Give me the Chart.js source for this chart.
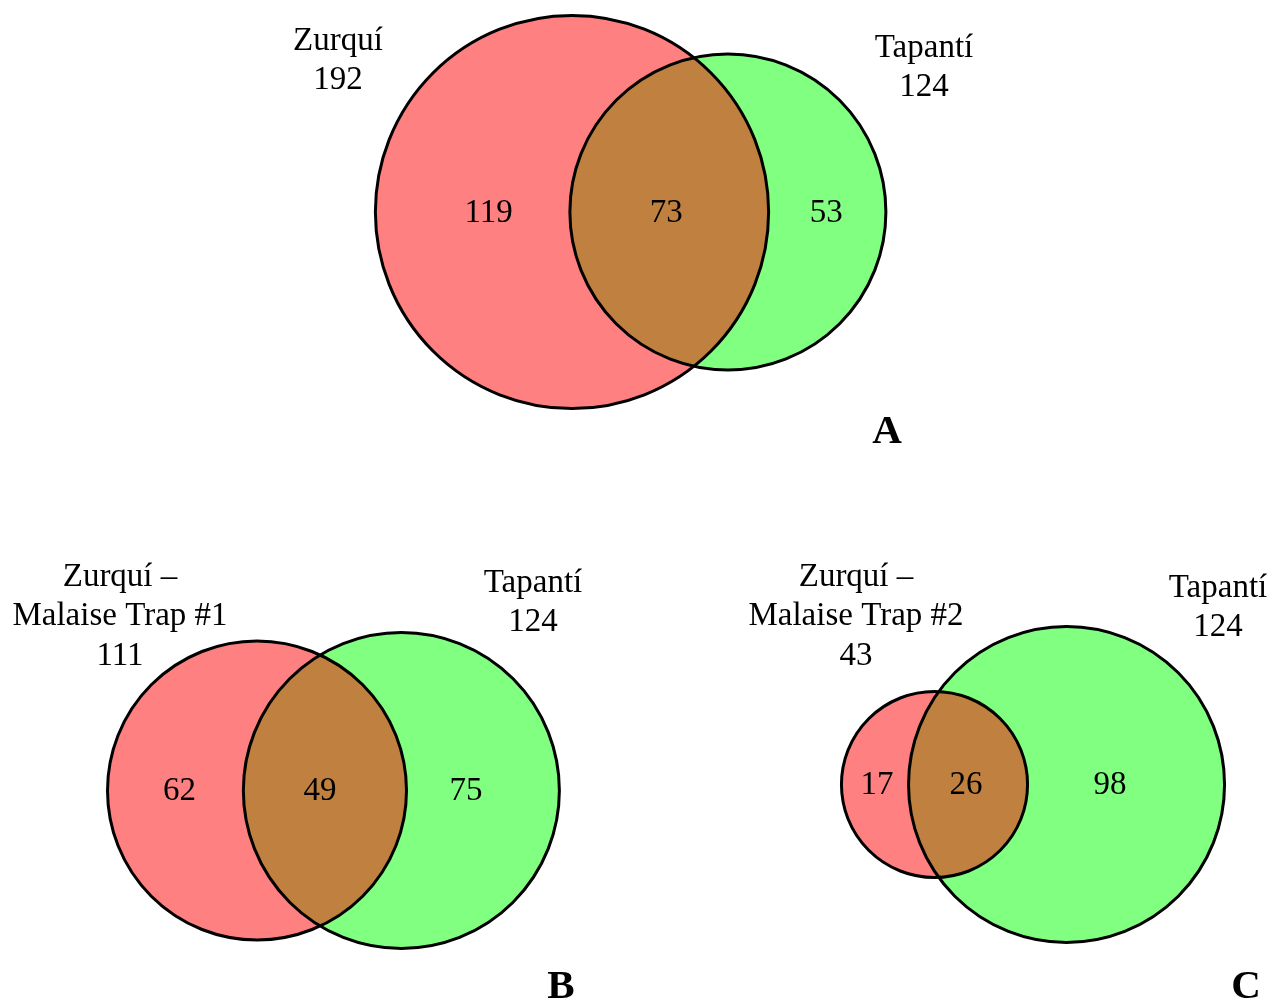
<!DOCTYPE html>
<html>
<head>
<meta charset="utf-8">
<script src="https://cdn.jsdelivr.net/npm/chart.js@4/dist/chart.umd.min.js"></script>
<style>
  html, body { margin: 0; padding: 0; background: #ffffff; }
  #wrap { width: 1277px; height: 1003px; position: relative; }
</style>
</head>
<body>
<div id="wrap"><canvas id="venn"></canvas></div>
<script>
// Species counts for the three pairwise comparisons
const panelLetters   = ['A', 'B', 'C'];
const leftSetNames   = [['Zurquí'], ['Zurquí –', 'Malaise Trap #1'], ['Zurquí –', 'Malaise Trap #2']];
const rightSetNames  = [['Tapantí'], ['Tapantí'], ['Tapantí']];
const leftTotals     = [192, 111, 43];
const rightTotals    = [124, 124, 124];
const leftOnly       = [119, 62, 17];
const shared         = [73, 49, 26];
const rightOnly      = [53, 75, 98];

// Layout (plot units: 1 unit = 1 px, y grows downward)
const unitRadius = 14.19;               // circle radius per sqrt(count)
const layout = [
  { cx: 572,   cy: 212,   gap: 5,  leftLabel: [338, 41],  rightLabel: [924, 48],  letter: [887, 432], nudge: [16, -3, -1] },
  { cx: 257,   cy: 790.5, gap: -2, leftLabel: [120, 577], rightLabel: [533, 583], letter: [561, 987], nudge: [4, -5, -17] },
  { cx: 934.5, cy: 784.5, gap: -1, leftLabel: [856, 577], rightLabel: [1218, 588], letter: [1246, 987], nudge: [2, -2, -16] }
];
const lineGap = 39.5;
const FONT = "'Liberation Serif', 'Times New Roman', serif";
const TEXT_SIZE = 33;
const LETTER_SIZE = 41;
const RED = 'rgb(255,128,128)';
const GREEN = 'rgb(128,255,128)';
const MIX = 'rgb(191,128,64)';

// Area of the lens formed by two circles at centre distance d
function lensArea(r1, r2, d) {
  if (d >= r1 + r2) return 0;
  if (d <= Math.abs(r1 - r2)) return Math.PI * Math.min(r1, r2) ** 2;
  const a1 = Math.acos((d * d + r1 * r1 - r2 * r2) / (2 * d * r1));
  const a2 = Math.acos((d * d + r2 * r2 - r1 * r1) / (2 * d * r2));
  const t = Math.sqrt((-d + r1 + r2) * (d + r1 - r2) * (d - r1 + r2) * (d + r1 + r2));
  return r1 * r1 * a1 + r2 * r2 * a2 - 0.5 * t;
}
// Centre distance whose lens area is proportional to the shared count
function solveDistance(r1, r2, target) {
  let lo = Math.abs(r1 - r2), hi = r1 + r2;
  for (let i = 0; i < 80; i++) {
    const mid = (lo + hi) / 2;
    if (lensArea(r1, r2, mid) > target) lo = mid; else hi = mid;
  }
  return (lo + hi) / 2;
}

const circles = panelLetters.map((_, i) => {
  const r1 = unitRadius * Math.sqrt(leftTotals[i]);
  const r2 = unitRadius * Math.sqrt(rightTotals[i]);
  const d = solveDistance(r1, r2, Math.PI * unitRadius * unitRadius * shared[i]);
  const L = layout[i];
  return { x1: L.cx, y: L.cy, r1, x2: L.cx + d + L.gap, r2 };
});

const centrePoints = [];
circles.forEach(c => { centrePoints.push({ x: c.x1, y: c.y }); centrePoints.push({ x: c.x2, y: c.y }); });

const vennPlugin = {
  id: 'venn',
  afterDatasetsDraw(chart) {
    const ctx = chart.ctx;
    const xs = chart.scales.x, ys = chart.scales.y;
    const px = v => xs.getPixelForValue(v);
    const py = v => ys.getPixelForValue(v);
    const pr = (x, r) => Math.abs(xs.getPixelForValue(x + r) - xs.getPixelForValue(x));

    const text = (str, x, y, size, bold) => {
      ctx.font = (bold ? 'bold ' : '') + size + 'px ' + FONT;
      ctx.fillStyle = '#000';
      ctx.textAlign = 'center';
      ctx.textBaseline = 'middle';
      ctx.fillText(str, px(x), py(y));
    };

    circles.forEach((c, i) => {
      const X1 = px(c.x1), X2 = px(c.x2), Y = py(c.y);
      const R1 = pr(c.x1, c.r1), R2 = pr(c.x2, c.r2);
      ctx.save();
      // left set
      ctx.beginPath(); ctx.arc(X1, Y, R1, 0, Math.PI * 2); ctx.fillStyle = RED; ctx.fill();
      // right set
      ctx.beginPath(); ctx.arc(X2, Y, R2, 0, Math.PI * 2); ctx.fillStyle = GREEN; ctx.fill();
      // intersection
      ctx.save();
      ctx.beginPath(); ctx.arc(X1, Y, R1, 0, Math.PI * 2); ctx.clip();
      ctx.beginPath(); ctx.arc(X2, Y, R2, 0, Math.PI * 2); ctx.fillStyle = MIX; ctx.fill();
      ctx.restore();
      // outlines
      ctx.lineWidth = 3; ctx.strokeStyle = '#000';
      ctx.beginPath(); ctx.arc(X1, Y, R1, 0, Math.PI * 2); ctx.stroke();
      ctx.beginPath(); ctx.arc(X2, Y, R2, 0, Math.PI * 2); ctx.stroke();
      ctx.restore();

      // region counts
      const L = layout[i];
      const l1 = c.x1 - c.r1, r1e = c.x1 + c.r1, l2 = c.x2 - c.r2, r2e = c.x2 + c.r2;
      text(String(leftOnly[i]), (l1 + l2) / 2 + L.nudge[0], c.y + 1, TEXT_SIZE, false);
      text(String(shared[i]), (l2 + r1e) / 2 + L.nudge[1], c.y + 1, TEXT_SIZE, false);
      text(String(rightOnly[i]), (r1e + r2e) / 2 + L.nudge[2], c.y + 1, TEXT_SIZE, false);

      // set names and totals
      const leftLines = leftSetNames[i].concat([String(leftTotals[i])]);
      leftLines.forEach((s, k) => text(s, L.leftLabel[0], L.leftLabel[1] + k * lineGap, TEXT_SIZE, false));
      const rightLines = rightSetNames[i].concat([String(rightTotals[i])]);
      rightLines.forEach((s, k) => text(s, L.rightLabel[0], L.rightLabel[1] + k * lineGap, TEXT_SIZE, false));

      // panel letter
      text(panelLetters[i], L.letter[0], L.letter[1], LETTER_SIZE, true);
    });
  }
};

new Chart(document.getElementById('venn'), {
  type: 'scatter',
  data: { datasets: [{ data: centrePoints, pointRadius: 0, pointHoverRadius: 0 }] },
  options: {
    responsive: true,
    maintainAspectRatio: false,
    animation: false,
    layout: { padding: 0 },
    plugins: { legend: { display: false }, tooltip: { enabled: false } },
    events: [],
    scales: {
      x: { type: 'linear', min: 0, max: 1277, display: false },
      y: { type: 'linear', min: 0, max: 1003, reverse: true, display: false }
    }
  },
  plugins: [vennPlugin]
});
</script>
</body>
</html>
